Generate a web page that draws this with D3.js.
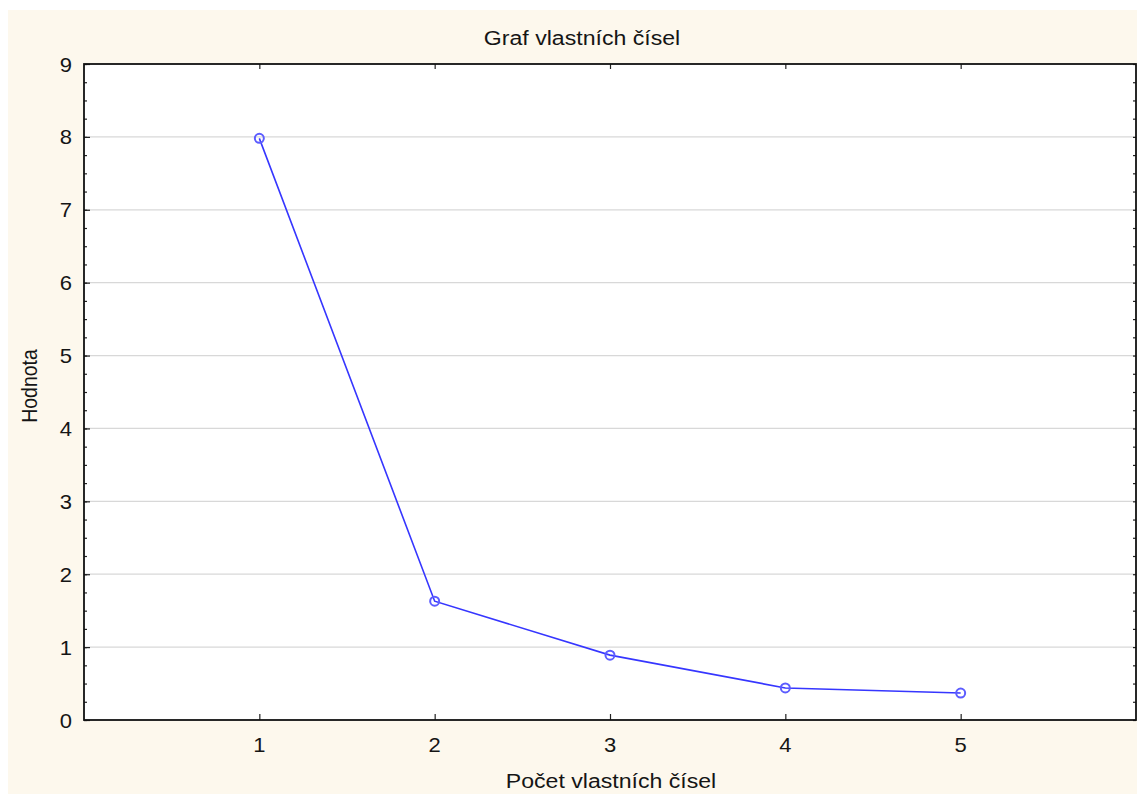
<!DOCTYPE html>
<html>
<head>
<meta charset="utf-8">
<script src="https://cdn.jsdelivr.net/npm/d3@7"></script>
<style>
  body { margin: 0; background: #fff; }
  text { font-family: "Liberation Sans", Arial, sans-serif; fill: #151515; }
</style>
</head>
<body>
<div id="chart"></div>
<script>
// Data
const components = [1, 2, 3, 4, 5]
const eigenvalues = [7.98, 1.63, 0.89, 0.44, 0.37]
const yTicks = [0, 1, 2, 3, 4, 5, 6, 7, 8, 9]

const width = 1137
const height = 794
const plotLeft = 84, plotRight = 1136, plotTop = 64, plotBottom = 720
const stretch = 1.1  // text in the original is slightly wider than tall

let svg = d3.select("#chart")
    .append("svg")
    .attr("width", width)
    .attr("height", height)

// Cream background
svg.append("rect")
    .attr("x", 8).attr("y", 10)
    .attr("width", width - 8).attr("height", height - 10)
    .attr("fill", "#fdf8ed")

svg.append("rect")
    .attr("x", plotLeft).attr("y", plotTop)
    .attr("width", plotRight - plotLeft).attr("height", plotBottom - plotTop)
    .attr("fill", "#fff")

const x = d3.scaleLinear().domain([0, 6]).range([plotLeft, plotRight])
const y = d3.scaleLinear().domain([0, 9]).range([plotBottom, plotTop])

// Grid lines
svg.append("g")
    .selectAll("line")
    .data(yTicks.slice(1, -1))
    .enter()
    .append("line")
    .attr("x1", plotLeft).attr("x2", plotRight)
    .attr("y1", d => y(d)).attr("y2", d => y(d))
    .style("stroke", "#d8d8d8")
    .style("stroke-width", 1.2)

// Minor y ticks (every 0.25)
const minor = d3.range(0, 9.001, 0.25)

// Axes (ticks point inward)
svg.append("g")
    .attr("transform", `translate(${plotLeft},0)`)
    .call(d3.axisRight(y).tickValues(minor).tickSize(3).tickFormat(""))
    .call(g => g.select(".domain").remove())
svg.append("g")
    .attr("transform", `translate(${plotRight},0)`)
    .call(d3.axisLeft(y).tickValues(minor).tickSize(3).tickFormat(""))
    .call(g => g.select(".domain").remove())
svg.append("g")
    .attr("transform", `translate(${plotLeft},0)`)
    .call(d3.axisRight(y).tickValues(yTicks).tickSize(6).tickFormat(""))
    .call(g => g.select(".domain").remove())

svg.append("g")
    .attr("transform", `translate(0,${plotBottom})`)
    .call(d3.axisTop(x).tickValues(components).tickSize(6).tickFormat(""))
    .call(g => g.select(".domain").remove())
svg.append("g")
    .attr("transform", `translate(0,${plotTop})`)
    .call(d3.axisBottom(x).tickValues(components).tickSize(5).tickFormat(""))
    .call(g => g.select(".domain").remove())

svg.selectAll(".tick line").style("stroke", "#222").style("stroke-width", 1.2)

// Tick labels
svg.append("g")
    .selectAll("text")
    .data(yTicks)
    .enter()
    .append("text")
    .attr("transform", d => `translate(72,${y(d) + 7.5}) scale(${stretch},1)`)
    .attr("text-anchor", "end")
    .style("font-size", "20px")
    .text(d => d)

svg.append("g")
    .selectAll("text")
    .data(components)
    .enter()
    .append("text")
    .attr("transform", d => `translate(${x(d)},752) scale(${stretch},1)`)
    .attr("text-anchor", "middle")
    .style("font-size", "20px")
    .text(d => d)

// Frame
svg.append("rect")
    .attr("x", plotLeft).attr("y", plotTop)
    .attr("width", plotRight - plotLeft).attr("height", plotBottom - plotTop)
    .style("fill", "none")
    .style("stroke", "#111")
    .style("stroke-width", 1.8)

// Line + markers
const pts = components.map((c, i) => [c, eigenvalues[i]])
svg.append("path")
    .datum(pts)
    .attr("d", d3.line().x(d => x(d[0])).y(d => y(d[1])))
    .style("fill", "none")
    .style("stroke", "#3636ff")
    .style("stroke-width", 1.6)

svg.append("g")
    .selectAll("circle")
    .data(pts)
    .enter()
    .append("circle")
    .attr("cx", d => x(d[0]))
    .attr("cy", d => y(d[1]))
    .attr("r", 4.5)
    .style("fill", "none")
    .style("stroke", "#5c5cff")
    .style("stroke-width", 2)

// Titles
svg.append("text")
    .attr("transform", `translate(582,45) scale(${stretch},1)`)
    .attr("text-anchor", "middle")
    .style("font-size", "21px")
    .text("Graf vlastních čísel")

svg.append("text")
    .attr("transform", `translate(611,788) scale(${stretch},1)`)
    .attr("text-anchor", "middle")
    .style("font-size", "21px")
    .text("Počet vlastních čísel")

svg.append("text")
    .attr("transform", `translate(37,386) rotate(-90) scale(1,${stretch})`)
    .attr("text-anchor", "middle")
    .style("font-size", "19.5px")
    .text("Hodnota")
</script>
</body>
</html>
